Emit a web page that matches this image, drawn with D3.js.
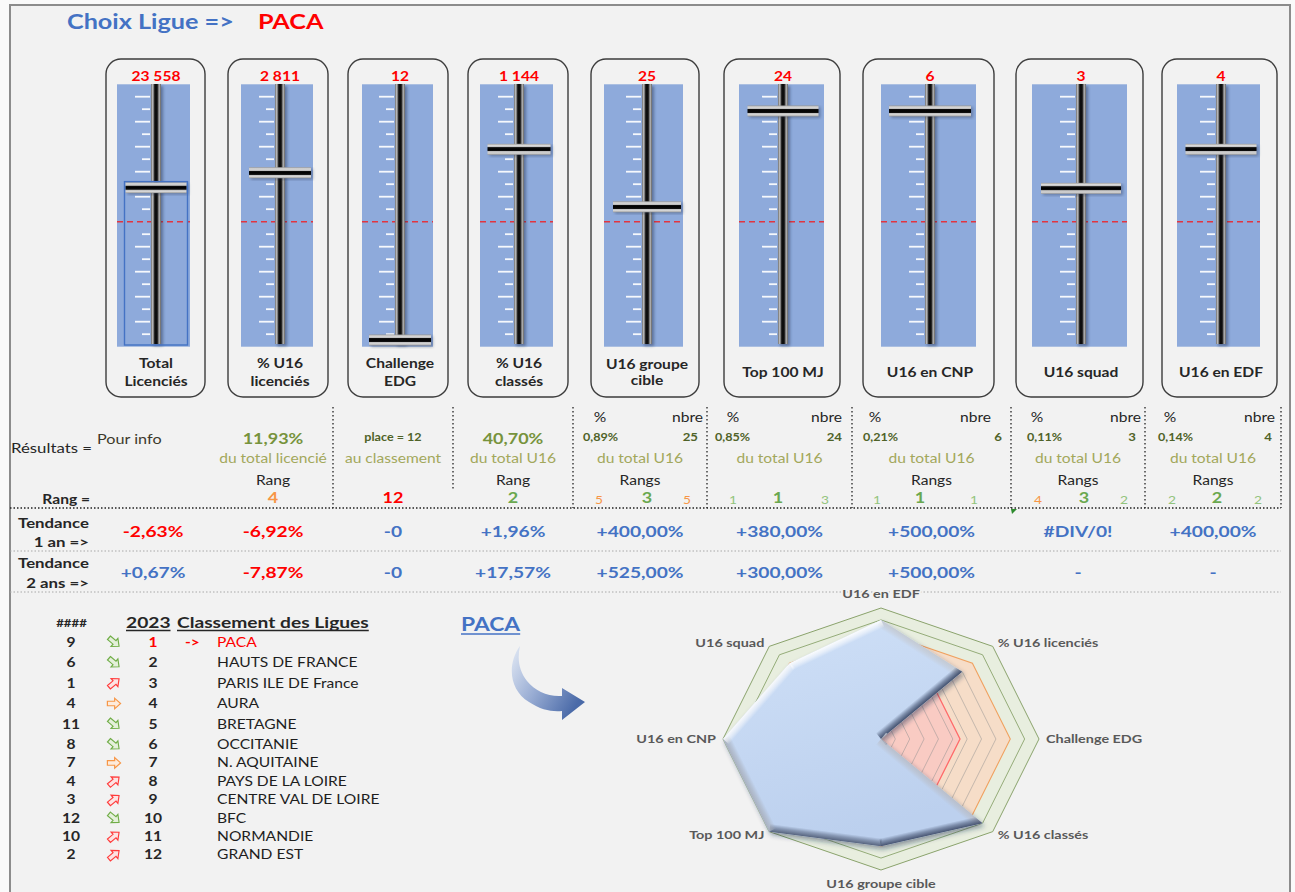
<!DOCTYPE html>
<html><head><meta charset="utf-8">
<script src="https://cdn.jsdelivr.net/npm/d3@7"></script>
<style>
body{margin:0;background:#fff;}
svg text{font-family:Lato,"Open Sans","Liberation Sans",sans-serif;}
</style></head><body>
<svg id="c" width="1295" height="892"></svg>
<script>
// ---------------- DATA ----------------
const selectedLeague = "PACA";
const sliderLabels = [["Total","Licenciés"],["% U16","licenciés"],["Challenge","EDG"],["% U16","classés"],["U16 groupe","cible"],["Top 100 MJ"],["U16 en CNP"],["U16 squad"],["U16 en EDF"]];
const sliderValues = ["23 558","2 811","12","1 144","25","24","6","3","4"];
const sliderLevels = [64.4, 70.7, 0, 80.6, 56.3, 96.8, 96.8, 64.1, 80.6];

const mainResult = ["Pour info","11,93%","place = 12","40,70%"];
const subResult = ["","du total licencié","au classement","du total U16","du total U16","du total U16","du total U16","du total U16","du total U16"];
const rangHeader = ["","Rang","","Rang","Rangs","","Rangs","Rangs","Rangs"];
const rankMain = [null,4,12,2,3,1,1,3,2];
const pctShare = ["0,89%","0,85%","0,21%","0,11%","0,14%"];
const countNbre = ["25","24","6","3","4"];
const rankLeft = [5,1,1,4,2];
const rankRight = [5,3,1,2,2];
const trend1 = ["-2,63%","-6,92%","-0","+1,96%","+400,00%","+380,00%","+500,00%","#DIV/0!","+400,00%"];
const trend2 = ["+0,67%","-7,87%","-0","+17,57%","+525,00%","+300,00%","+500,00%","-","-"];

const tableYear = "2023";
const prevRank = [9,6,1,4,11,8,7,4,3,12,10,2];
const moveDir = ["down","down","up","right","down","down","right","up","up","down","up","up"];
const currRank = [1,2,3,4,5,6,7,8,9,10,11,12];
const leagues = ["PACA","HAUTS DE FRANCE","PARIS ILE DE France","AURA","BRETAGNE","OCCITANIE","N. AQUITAINE","PAYS DE LA LOIRE","CENTRE VAL DE LOIRE","BFC","NORMANDIE","GRAND EST"];

const radarAxes = ["U16 en EDF","% U16 licenciés","Challenge EDG","% U16 classés","U16 groupe cible","Top 100 MJ","U16 en CNP","U16 squad"];
const radarPaca = [10,8,0,10,9,11,11,9];
const radarGreen = [11,11,11,11,11,11,11,11];
const radarGreen2 = [10,10,10,10,10,10,10,10];
const radarOrange = [9,9,9,9,9,9,9,9];
const radarRed = [5.5,5.5,5.5,5.5,5.5,5.5,5.5,5.5];

// ---------------- LAYOUT ----------------
const SX = 1.2;
const panelX0 = [106,228,348,468,591,724,863,1016,1162];
const panelX1 = [205,328,448,568,699,840,994,1143,1277];
const blueX0 = [117,241,362,480,604,739,881,1032,1177];
const blueX1 = [190,313,433,553,683,824,976,1127,1260];
const trackX = [156,280,400,519,647,783,930,1081,1221];
const thumbW = [61,62,62,63,68,71,82,80,71];
const colB = [93,213,333,453,573,707,852,1011,1145,1281];
const colC = d3.range(9).map(i => (colB[i]+colB[i+1])/2);
const pctHdrX = [600,733,875,1037,1170], nbreHdrR = [703,842,991,1141,1275];
const pctValX = [583,715,863,1027,1158], nbreValR = [698,842,1002,1136,1272];
const rkLX = [599,733,877,1038,1172], rkMX = [647,778,920,1084,1217], rkRX = [687,825,974,1124,1258];

const RED="#ff0000", BLUE="#4472c4", DARK="#262626", OLIVE="#77933c", KHAKI="#a3a85c", DKGREEN="#4f6228";
const GREEN_B="#6aa84f", GREEN_S="#93c47d", ORANGE="#f79646";

const svg = d3.select("#c");
const defs = svg.append("defs");

function T(p, x, y, s, o={}) {
  return p.append("text")
    .attr("transform", `translate(${x},${y}) scale(${o.sx||SX},1)`)
    .attr("text-anchor", o.anchor||"middle")
    .attr("dy","0.35em")
    .style("font-size",(o.size||13)+"px")
    .style("font-weight",o.bold?"700":"400")
    .attr("fill",o.color||DARK)
    .text(s);
}
function underline(t, x, y, color, w) {
  const bw = t.node().getComputedTextLength()*SX;
  const anchor = t.attr("text-anchor");
  const x0 = anchor==="middle"? x-bw/2 : anchor==="end"? x-bw : x;
  svg.append("line").attr("x1",x0).attr("x2",x0+bw).attr("y1",y).attr("y2",y)
    .attr("stroke",color).attr("stroke-width",w||1.3);
}

// background frame
svg.append("rect").attr("width",1295).attr("height",892).attr("fill","#fafafa");
svg.append("rect").attr("x",10).attr("y",5).attr("width",1280).attr("height",900)
  .attr("fill","#f2f2f2").attr("stroke","#8c8c8c").attr("stroke-width",2);

// title
T(svg, 67, 22, "Choix Ligue =>", {anchor:"start", size:21, bold:true, color:BLUE});
T(svg, 258, 22, selectedLeague, {anchor:"start", size:21, bold:true, color:RED});

// ---------------- SLIDERS ----------------
const trackG = defs.append("linearGradient").attr("id","trackG").attr("x1",0).attr("x2",1).attr("y1",0).attr("y2",0);
[[0,"#6e6e6e"],[0.18,"#c4c4c4"],[0.34,"#2a2a2a"],[0.5,"#000"],[0.66,"#2a2a2a"],[0.82,"#b8b8b8"],[1,"#5e5e5e"]]
  .forEach(s=>trackG.append("stop").attr("offset",s[0]).attr("stop-color",s[1]));
const thumbG = defs.append("linearGradient").attr("id","thumbG").attr("x1",0).attr("x2",0).attr("y1",0).attr("y2",1);
[[0,"#9e9e9e"],[0.15,"#dadada"],[0.3,"#bdbdbd"],[0.34,"#111"],[0.5,"#000"],[0.66,"#111"],[0.7,"#bdbdbd"],[0.85,"#d6d6d6"],[1,"#9a9a9a"]]
  .forEach(s=>thumbG.append("stop").attr("offset",s[0]).attr("stop-color",s[1]));
const blur = defs.append("filter").attr("id","blur2").attr("x","-50%").attr("y","-10%").attr("width","200%").attr("height","120%");
blur.append("feGaussianBlur").attr("stdDeviation",1.8);

const levelY = d3.scaleLinear().domain([0,100]).range([340,103.4]);
const tickY = d3.scaleLinear().domain([0,19]).range([96.7,334.2]);
const blueTop = 84.3, blueBot = 346.7, trackTop = 84, trackBot = 344, midY = 221.7;

sliderValues.forEach((v,i)=>{
  const g = svg.append("g");
  g.append("rect").attr("x",panelX0[i]).attr("y",59).attr("width",panelX1[i]-panelX0[i]).attr("height",338)
    .attr("rx",15).attr("fill","none").attr("stroke","#3d3d3d").attr("stroke-width",1.4);
  g.append("rect").attr("x",blueX0[i]).attr("y",blueTop).attr("width",blueX1[i]-blueX0[i]).attr("height",blueBot-blueTop)
    .attr("fill","#8eaadb");
  d3.range(20).forEach(k=>{
    if (k===10) return;
    const long = k%2===0;
    g.append("line").attr("x1",trackX[i]-(long?21:14)).attr("x2",trackX[i]-6)
      .attr("y1",tickY(k)).attr("y2",tickY(k)).attr("stroke","#fff").attr("stroke-width",1.8).attr("opacity",0.92);
  });
  g.append("line").attr("x1",blueX0[i]).attr("x2",blueX1[i]).attr("y1",midY).attr("y2",midY)
    .attr("stroke","#e2343f").attr("stroke-width",1.5).attr("stroke-dasharray","6,4");
  g.append("rect").attr("x",trackX[i]-3).attr("y",trackTop+2).attr("width",10).attr("height",trackBot-trackTop)
    .attr("fill","#1a2a4a").attr("opacity",0.45).attr("filter","url(#blur2)");
  g.append("rect").attr("x",trackX[i]-5).attr("y",trackTop).attr("width",10).attr("height",trackBot-trackTop)
    .attr("fill","url(#trackG)");
  const ty = levelY(sliderLevels[i]);
  g.append("rect").attr("x",trackX[i]-thumbW[i]/2+2).attr("y",ty-4).attr("width",thumbW[i]).attr("height",11)
    .attr("fill","#1a2a4a").attr("opacity",0.35).attr("filter","url(#blur2)");
  g.append("rect").attr("x",trackX[i]-thumbW[i]/2).attr("y",ty-5.5).attr("width",thumbW[i]).attr("height",11)
    .attr("fill","url(#thumbG)");
  if (i===0) {
    g.append("rect").attr("x",trackX[i]-thumbW[i]/2-1).attr("y",ty-6).attr("width",thumbW[i]+2).attr("height",345-(ty-6))
      .attr("fill","none").attr("stroke","#4472c4").attr("stroke-width",1.4);
  }
  T(g, trackX[i], 76.5, v, {size:13, bold:true, color:RED});
  const L = sliderLabels[i];
  if (L.length===2) {
    const gap = i===4 ? 16 : 18;
    T(g, trackX[i], 372-gap/2, L[0], {size:13, bold:true});
    T(g, trackX[i], 372+gap/2, L[1], {size:13, bold:true});
  } else {
    T(g, trackX[i], 372, L[0], {size:13, bold:true});
  }
});

// ---------------- RESULTS ----------------
const res = svg.append("g");
defs.append("clipPath").attr("id","clipC2").append("rect").attr("x",213).attr("y",445).attr("width",120).attr("height",30);

T(res, 92, 448, "Résultats =", {anchor:"end", size:14});
T(res, 97, 439, mainResult[0], {anchor:"start", size:13.5, color:"#3d3a2c"});
T(res, colC[1], 439, mainResult[1], {size:15, bold:true, color:OLIVE});
T(res, colC[2], 437, mainResult[2], {size:10.5, bold:true, color:DKGREEN});
T(res, colC[3], 439, mainResult[3], {size:15, bold:true, color:OLIVE});
T(res, 90, 499, "Rang =", {anchor:"end", size:13, bold:true});

const rankColor = (r, big) => r<=3 ? (big?GREEN_B:GREEN_S) : r<=6 ? ORANGE : RED;

subResult.forEach((s,i)=>{
  if (!s) return;
  const host = i===1 ? res.append("g").attr("clip-path","url(#clipC2)") : res;
  T(host, colC[i], 458, s, {size:13, color:KHAKI});
});
rangHeader.forEach((s,i)=>{ if (s) T(res, colC[i], 480, s, {size:13}); });
rankMain.forEach((r,i)=>{ if (r!==null) T(res, i>=4? rkMX[i-4] : colC[i], 498, r, {size:15, bold:true, color:rankColor(r,true)}); });
pctShare.forEach((p,j)=>{
  T(res, pctHdrX[j], 417, "%", {size:13});
  T(res, nbreHdrR[j], 417, "nbre", {anchor:"end", size:13});
  T(res, pctValX[j], 437, p, {anchor:"start", size:10.5, bold:true, color:DKGREEN});
  T(res, nbreValR[j], 437, countNbre[j], {anchor:"end", size:11, bold:true, color:DKGREEN});
  T(res, rkLX[j], 500, rankLeft[j], {size:11.5, color:rankColor(rankLeft[j],false)});
  T(res, rkRX[j], 500, rankRight[j], {size:11.5, color:rankColor(rankRight[j],false)});
});

[333,453,573,707,852,1011,1145,1281].forEach(x=>{
  res.append("line").attr("x1",x).attr("x2",x).attr("y1",407).attr("y2", x===453?489:508)
    .attr("stroke","#222").attr("stroke-width",1.3).attr("stroke-dasharray","1.5,2.5");
});
res.append("line").attr("x1",10).attr("x2",1281).attr("y1",508).attr("y2",508)
  .attr("stroke","#222").attr("stroke-width",1.3).attr("stroke-dasharray","1.5,2");
[551,592].forEach(y=>res.append("line").attr("x1",10).attr("x2",1281).attr("y1",y).attr("y2",y)
  .attr("stroke","#a8a8a8").attr("stroke-width",1).attr("stroke-dasharray","1.5,2"));
res.append("path").attr("d","M1011,509 L1017,509 L1012,514 Z").attr("fill","#2e8b2e");

T(res, 89, 523, "Tendance", {anchor:"end", size:14, bold:true});
T(res, 89, 542, "1 an =>", {anchor:"end", size:14, bold:true});
T(res, 89, 563, "Tendance", {anchor:"end", size:14, bold:true});
T(res, 89, 583, "2 ans =>", {anchor:"end", size:14, bold:true});
const trendColor = s => parseFloat(s.replace(",", ".")) < 0 ? RED : BLUE;
trend1.forEach((s,i)=>T(res, colC[i], 531, s, {size:16, bold:true, color:trendColor(s)}));
trend2.forEach((s,i)=>T(res, colC[i], 572, s, {size:16, bold:true, color:trendColor(s)}));

// ---------------- TABLE ----------------
const tb = svg.append("g");
T(tb, 71.5, 623, "####", {size:11, bold:true});
const ty1 = T(tb, 126, 622, tableYear, {anchor:"start", size:16, bold:true});
underline(ty1, 126, 630.5, DARK);
const ty2 = T(tb, 177, 622, "Classement des Ligues", {anchor:"start", size:16, bold:true});
underline(ty2, 177, 630.5, DARK);

const rowY = i => i<6 ? 642 + i*20.5 : 744.5 + (i-5)*18.4;
const arrowPath = "M-6,-2.3 L0.6,-2.3 L0.6,-5.3 L6,0 L0.6,5.3 L0.6,2.3 L-6,2.3 Z";
const dirStyle = {down:{rot:40, stroke:"#70ad47", fill:"#e4f0da"}, up:{rot:-40, stroke:"#ff3b3b", fill:"#fde3e3"}, right:{rot:0, stroke:"#f79646", fill:"#fdebdc"}};
leagues.forEach((name,i)=>{
  const y = rowY(i);
  const sel = name===selectedLeague;
  T(tb, 71, y, prevRank[i], {size:13, bold:true});
  const st = dirStyle[moveDir[i]];
  tb.append("path").attr("d",arrowPath).attr("transform",`translate(114,${y}) rotate(${st.rot}) scale(1.1,1)`)
    .attr("fill",st.fill).attr("stroke",st.stroke).attr("stroke-width",1.1);
  T(tb, 153, y, currRank[i], {size:13, bold:true, color: sel?RED:DARK});
  if (sel) T(tb, 185, y, "->", {anchor:"start", size:13, bold:true, color:RED});
  T(tb, 217, y, name, {anchor:"start", size:13, color: sel?RED:"#1e1e1e"});
});

const pl = T(svg, 461, 624, selectedLeague, {anchor:"start", size:19, bold:true, color:BLUE});
underline(pl, 461, 634, BLUE, 1.5);
const ag = defs.append("linearGradient").attr("id","arrowG").attr("x1",0).attr("y1",0).attr("x2",1).attr("y2",0.6);
ag.append("stop").attr("offset",0).attr("stop-color","#e3eaf5");
ag.append("stop").attr("offset",0.5).attr("stop-color","#98acd3");
ag.append("stop").attr("offset",1).attr("stop-color","#4a6aa8");
svg.append("path")
  .attr("d","M520,646 C507,664 509,690 529,702 C541,710 552,712 562,711 L562,720 L585,702 L562,688 L562,696 C548,697 535,691 527,681 C519,671 517,659 520,646 Z")
  .attr("fill","url(#arrowG)");

// ---------------- RADAR ----------------
const cx = 881, cy = 739, RX = 158, RY = 131;
const r = d3.scaleLinear().domain([0,11]).range([0,1]);
const ang = i => i*2*Math.PI/radarAxes.length;
const P = (v,i) => [cx + RX*r(v)*Math.sin(ang(i)), cy - RY*r(v)*Math.cos(ang(i))];
const poly = vals => d3.line().curve(d3.curveLinearClosed)(vals.map((v,i)=>P(v,i)));
const rg = svg.append("g");

rg.append("path").attr("d",poly(radarGreen)).attr("fill","#e8eedf").attr("stroke","#7f9a5e").attr("stroke-width",0.9);
rg.append("path").attr("d",poly(radarGreen2)).attr("fill","none").attr("stroke","#7f9a5e").attr("stroke-width",0.8);
rg.append("path").attr("d",poly(radarOrange)).attr("fill","#f6ddc8").attr("stroke","#f0a160").attr("stroke-width",1.1);
rg.append("path").attr("d",poly(radarRed)).attr("fill","#f9cbc3").attr("stroke","#ff6b6b").attr("stroke-width",1.3);
d3.range(1,9).forEach(k=>{
  rg.append("path").attr("d",poly(radarAxes.map(()=>k))).attr("fill","none")
    .attr("stroke","#8f8f8f").attr("stroke-width",0.7).attr("opacity",0.7);
});

const sh = defs.append("filter").attr("id","pshadow").attr("x","-20%").attr("y","-20%").attr("width","140%").attr("height","140%");
sh.append("feDropShadow").attr("dx",2).attr("dy",3).attr("stdDeviation",2.5).attr("flood-color","#1f2f4f").attr("flood-opacity",0.45);
const pg = defs.append("linearGradient").attr("id","pacaG").attr("x1",0).attr("y1",0).attr("x2",0.3).attr("y2",1);
pg.append("stop").attr("offset",0).attr("stop-color","#cfe0f7");
pg.append("stop").attr("offset",1).attr("stop-color","#bcd0ee");
const pd = poly(radarPaca);
rg.append("path").attr("d",pd).attr("fill","url(#pacaG)").attr("filter","url(#pshadow)");
defs.append("clipPath").attr("id","pclip").append("path").attr("d",pd);
const pts = radarPaca.map((v,i)=>P(v,i));
const bev = rg.append("g").attr("clip-path","url(#pclip)");
const light = [-0.55,-0.83];
const shade = d3.interpolateRgb("#3a4866","#ffffff");
const BW = 8;
pts.forEach((p,i)=>{
  const q = pts[(i+1)%pts.length];
  const dx=q[0]-p[0], dy=q[1]-p[1]; const len=Math.hypot(dx,dy); if(len<1) return;
  const n=[dy/len,-dx/len];
  const t=(n[0]*light[0]+n[1]*light[1]+1)/2;
  const col = shade(t);
  const mx=(p[0]+q[0])/2, my=(p[1]+q[1])/2;
  const gid = "bev"+i;
  const lg = defs.append("linearGradient").attr("id",gid).attr("gradientUnits","userSpaceOnUse")
    .attr("x1",mx).attr("y1",my).attr("x2",mx-n[0]*BW).attr("y2",my-n[1]*BW);
  lg.append("stop").attr("offset",0).attr("stop-color",col).attr("stop-opacity",0.95);
  lg.append("stop").attr("offset",0.55).attr("stop-color",col).attr("stop-opacity",0.5);
  lg.append("stop").attr("offset",1).attr("stop-color",col).attr("stop-opacity",0);
  bev.append("line").attr("x1",p[0]).attr("y1",p[1]).attr("x2",q[0]).attr("y2",q[1])
    .attr("stroke",`url(#${gid})`).attr("stroke-width",BW*2);
});

radarAxes.forEach((a,i)=>{
  const [x,y] = P(11,i);
  const s = Math.sin(ang(i)), c = Math.cos(ang(i));
  const anchor = s>0.1?"start":s<-0.1?"end":"middle";
  const dy = Math.abs(s)<0.1 ? 14 : 5;
  T(rg, x + s*7, y - c*dy, a, {anchor, size:12, bold:true, color:"#595959"})
    .attr("stroke","#f2f2f2").attr("stroke-width",3).attr("paint-order","stroke");
});
</script>
</body></html>
